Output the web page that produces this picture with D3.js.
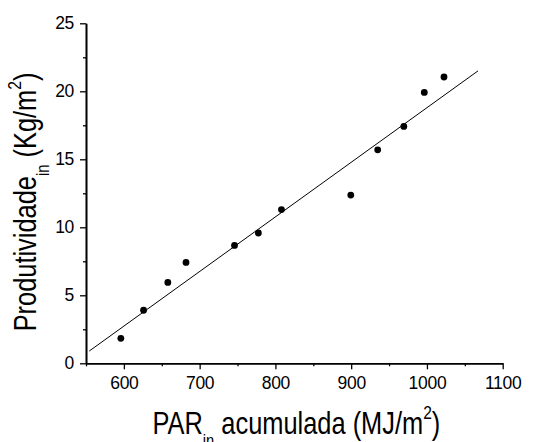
<!DOCTYPE html>
<html>
<head>
<meta charset="utf-8">
<script src="https://cdnjs.cloudflare.com/ajax/libs/d3/7.8.5/d3.min.js"></script>
<style>
  body { margin: 0; background: #fff; }
  text { font-family: "Liberation Sans", Arial, sans-serif; fill: #000; }
</style>
</head>
<body>
<svg id="chart" width="533" height="442"></svg>
<script>
// observed points
var parIn = [596, 626, 658, 682, 746, 777.5, 808, 899.5, 935, 969.5, 996.5, 1022.5];
var produtividade = [1.84, 3.9, 5.95, 7.42, 8.67, 9.58, 11.3, 12.37, 15.7, 17.42, 19.92, 21.05];

// fitted line (end points)
var fitX = [554.3, 1067.4];
var fitY = [0.9, 21.5];

var xMajor = [600, 700, 800, 900, 1000, 1100];
var xMinor = [550, 650, 750, 850, 950, 1050];
var yMajor = [0, 5, 10, 15, 20, 25];
var yMinor = [2.5, 7.5, 12.5, 17.5, 22.5];

var svg = d3.select("#chart");
var mLeft = 86, mRight = 502.7, mTop = 23.3, mBottom = 363.3;

var x = d3.scaleLinear().domain([550, 1100]).range([mLeft, mRight]);
var y = d3.scaleLinear().domain([0, 25]).range([mBottom, mTop]);

// x axis
var gx = svg.append("g").attr("transform", "translate(0," + mBottom + ")");
gx.call(d3.axisBottom(x).tickValues(xMajor).tickSize(6).tickSizeOuter(0).tickPadding(7).tickFormat(d3.format("d")));
gx.append("g").call(d3.axisBottom(x).tickValues(xMinor).tickSize(3).tickSizeOuter(0).tickFormat(""));

// y axis
var gy = svg.append("g").attr("transform", "translate(" + mLeft + ",0)");
gy.call(d3.axisLeft(y).tickValues(yMajor).tickSize(6).tickSizeOuter(0).tickPadding(6).tickFormat(d3.format("d")));
gy.append("g").call(d3.axisLeft(y).tickValues(yMinor).tickSize(3).tickSizeOuter(0).tickFormat(""));

svg.selectAll(".domain").attr("stroke", "#000").attr("stroke-width", 1.6);
svg.selectAll(".tick line").attr("stroke", "#000").attr("stroke-width", 1.3);
svg.selectAll(".tick text").attr("font-size", 17.5).attr("font-family", "Liberation Sans, Arial, sans-serif")
  .attr("letter-spacing", -0.3);

// fit line
svg.append("line")
  .attr("x1", x(fitX[0])).attr("y1", y(fitY[0]))
  .attr("x2", x(fitX[1])).attr("y2", y(fitY[1]))
  .attr("stroke", "#000").attr("stroke-width", 1);

// points
svg.selectAll("circle.pt")
  .data(parIn.map(function (d, i) { return [d, produtividade[i]]; }))
  .enter().append("circle")
  .attr("class", "pt")
  .attr("cx", function (d) { return x(d[0]); })
  .attr("cy", function (d) { return y(d[1]); })
  .attr("r", 3.4)
  .attr("fill", "#000");

// axis titles: tall narrow type, done by squeezing horizontally
function title(g, main, sub, rest) {
  var t = g.append("text").attr("text-anchor", "middle").attr("font-size", 31);
  t.append("tspan").text(main);
  t.append("tspan").attr("font-size", 18).attr("dy", 13).text(sub);
  t.append("tspan").attr("dy", -13).text(rest);
  t.append("tspan").attr("font-size", 19).attr("dy", -15).text("2");
  t.append("tspan").attr("dy", 15).text(")");
}

var xt = svg.append("g")
  .attr("transform", "translate(" + ((mLeft + mRight) / 2 + 2) + ",434) scale(0.82,1)");
title(xt, "PAR", "in", " acumulada (MJ/m");

var yt = svg.append("g")
  .attr("transform", "translate(36,202) rotate(-90) scale(0.82,1)");
title(yt, "Produtividade", "in", "  (Kg/m");
</script>
</body>
</html>
